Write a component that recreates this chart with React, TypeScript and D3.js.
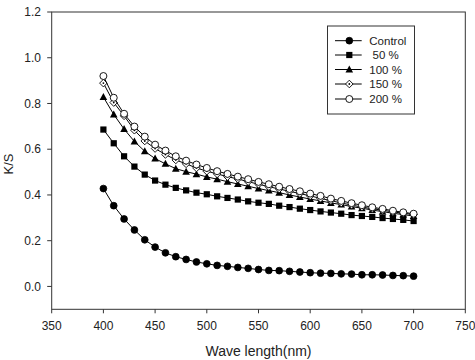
import React from "react";
import * as d3 from "d3";

const wavelengths = [400,410,420,430,440,450,460,470,480,490,500,510,520,530,540,550,560,570,580,590,600,610,620,630,640,650,660,670,680,690,700];
const control = [0.428,0.353,0.295,0.247,0.204,0.172,0.147,0.130,0.118,0.107,0.099,0.092,0.088,0.083,0.079,0.074,0.070,0.069,0.066,0.063,0.060,0.058,0.057,0.055,0.054,0.051,0.051,0.050,0.048,0.047,0.045];
const pct50 = [0.686,0.626,0.569,0.524,0.489,0.463,0.445,0.431,0.420,0.410,0.403,0.394,0.387,0.380,0.372,0.366,0.361,0.353,0.347,0.340,0.334,0.328,0.323,0.318,0.312,0.308,0.304,0.299,0.295,0.291,0.286];
const pct100 = [0.828,0.752,0.688,0.634,0.591,0.559,0.536,0.515,0.502,0.491,0.479,0.469,0.458,0.448,0.438,0.428,0.419,0.410,0.400,0.391,0.382,0.374,0.365,0.358,0.349,0.342,0.334,0.327,0.320,0.314,0.308];
const pct150 = [0.889,0.804,0.746,0.683,0.636,0.603,0.577,0.553,0.536,0.518,0.504,0.492,0.480,0.470,0.458,0.447,0.436,0.426,0.416,0.406,0.396,0.385,0.375,0.365,0.356,0.347,0.340,0.333,0.326,0.320,0.314];
const pct200 = [0.920,0.825,0.755,0.699,0.655,0.620,0.594,0.569,0.550,0.533,0.518,0.504,0.492,0.480,0.469,0.457,0.447,0.436,0.426,0.416,0.406,0.396,0.384,0.374,0.364,0.355,0.346,0.339,0.331,0.324,0.318];

const seriesNames = ["Control", " 50 %", "100 %", "150 %", "200 %"];
const seriesValues = [control, pct50, pct100, pct150, pct200];
const markerTypes = ["circleFilled", "square", "triangle", "diamond", "circleOpen"];

const xTicks = [350,400,450,500,550,600,650,700,750];
const yTicks = [0.0,0.2,0.4,0.6,0.8,1.0,1.2];

const FONT = "Liberation Sans, Arial, sans-serif";

function Marker({ type, x, y }: { type: string; x: number; y: number }) {
  switch (type) {
    case "circleFilled":
      return <circle cx={x} cy={y} r={3.4} fill="#000" stroke="#000" strokeWidth={0.8} />;
    case "square":
      return <rect x={x - 3.1} y={y - 3.1} width={6.2} height={6.2} fill="#000" />;
    case "triangle":
      return <path d={`M${x},${y - 4} L${x + 3.8},${y + 3} L${x - 3.8},${y + 3} Z`} fill="#000" />;
    case "diamond":
      return (
        <g>
          <path d={`M${x},${y - 3.8} L${x + 3.8},${y} L${x},${y + 3.8} L${x - 3.8},${y} Z`} fill="#fff" stroke="#000" strokeWidth={0.9} />
          <circle cx={x} cy={y} r={0.9} fill="#000" />
        </g>
      );
    default:
      return <circle cx={x} cy={y} r={3.5} fill="#fff" stroke="#000" strokeWidth={0.9} />;
  }
}

export default function App() {
  const x = d3.scaleLinear().domain([350, 750]).range([51.7, 465.3]);
  const y = d3.scaleLinear().domain([-0.1, 1.2]).range([309.3, 12]);
  const line = d3.line<number>().x((_, i) => x(wavelengths[i])).y((d) => y(d));
  const [x0, x1] = x.range();
  const [yb, yt] = y.range();

  const legendX = 327.5, legendY = 26, legendW = 87, legendH = 88;
  const legendRowY = [40.7, 55, 69.5, 84, 99];

  return (
    <svg width={475} height={360} style={{ position: "absolute", left: 0, top: 0, background: "#fff" }} fontFamily={FONT}>
      <rect width={475} height={360} fill="#fff" />
      {/* frame */}
      <rect x={x0} y={yt} width={x1 - x0} height={yb - yt} fill="none" stroke="#333" strokeWidth={1} />
      {/* x ticks */}
      {xTicks.map((t) => (
        <g key={"x" + t}>
          <line x1={x(t)} x2={x(t)} y1={yb} y2={yb + 4} stroke="#333" />
          <text x={x(t)} y={330} textAnchor="middle" fontSize={12} fill="#222">{t}</text>
        </g>
      ))}
      {/* y ticks */}
      {yTicks.map((t) => (
        <g key={"y" + t}>
          <line x1={x0 - 4.5} x2={x0} y1={y(t)} y2={y(t)} stroke="#333" />
          <text x={41} y={y(t) + 4.2} textAnchor="end" fontSize={12} fill="#222">{t.toFixed(1)}</text>
        </g>
      ))}
      {/* axis titles */}
      <text x={258.5} y={355.5} textAnchor="middle" fontSize={14} fill="#222">Wave length(nm)</text>
      <text transform={`translate(12.5,164) rotate(-90)`} textAnchor="middle" fontSize={13} fill="#222">K/S</text>
      {/* series */}
      {seriesValues.map((vals, si) => (
        <g key={"s" + si}>
          <path d={line(vals) || ""} fill="none" stroke="#000" strokeWidth={1} />
          {vals.map((v, i) => (
            <Marker key={i} type={markerTypes[si]} x={x(wavelengths[i])} y={y(v)} />
          ))}
        </g>
      ))}
      {/* legend */}
      <rect x={legendX} y={legendY} width={legendW} height={legendH} fill="#fff" stroke="#333" strokeWidth={1} />
      {seriesNames.map((name, i) => (
        <g key={"l" + i}>
          <line x1={335} x2={361.7} y1={legendRowY[i]} y2={legendRowY[i]} stroke="#000" />
          <Marker type={markerTypes[i]} x={349.3} y={legendRowY[i]} />
          <text x={369.3} y={legendRowY[i] + 4} fontSize={11.5} fill="#222" style={{ whiteSpace: "pre" }}>{name}</text>
        </g>
      ))}
    </svg>
  );
}
